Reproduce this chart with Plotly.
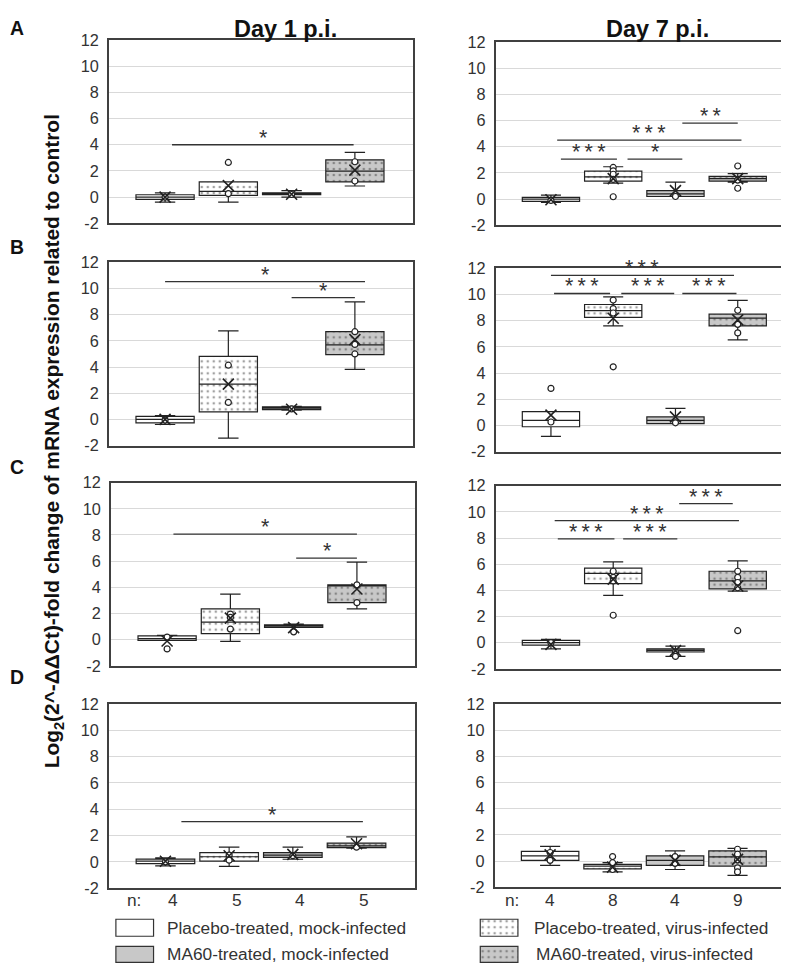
import plotly.graph_objects as go

# groups in plotting order
GROUPS = ["Placebo-treated, mock-infected", "Placebo-treated, virus-infected",
          "MA60-treated, mock-infected", "MA60-treated, virus-infected"]
N_DAY1 = [4, 5, 4, 5]
N_DAY7 = [4, 8, 4, 9]
Y_TICKS = [-2, 0, 2, 4, 6, 8, 10, 12]

# box stats per group: (q1, median, q3, lower whisker, upper whisker, mean)
A_D1_BOX = [(-0.18, 0.0, 0.18, -0.38, 0.33, 0.0), (0.13, 0.44, 1.16, -0.38, 1.16, 0.88),
            (0.18, 0.26, 0.33, 0.0, 0.5, 0.22), (1.16, 1.98, 2.85, 0.85, 3.42, 2.06)]
A_D1_POINTS = [[0.0], [0.26, 2.65], [0.2], [2.7, 1.23]]
A_D1_SIG = [(0.11, 2.98, 4.0, "*")]

A_D7_BOX = [(-0.18, 0.0, 0.13, -0.26, 0.31, -0.05), (1.38, 1.7, 2.13, 1.22, 2.47, 1.56),
            (0.2, 0.4, 0.65, 0.2, 1.3, 0.65), (1.38, 1.56, 1.74, 1.3, 1.95, 1.56)]
A_D7_POINTS = [[-0.1], [2.42, 2.16, 1.9, 1.5, 0.18], [0.2], [2.53, 1.45, 0.83]]
A_D7_SIG = [(0.16, 1.06, 3.05, "***"), (1.23, 2.11, 3.05, "*"),
            (0.1, 3.06, 4.5, "***"), (2.11, 3.0, 5.8, "**")]

B_D1_BOX = [(-0.26, 0.0, 0.23, -0.39, 0.3, 0.0), (0.57, 2.7, 4.82, -1.43, 6.77, 2.7),
            (0.75, 0.86, 0.96, 0.7, 1.0, 0.78), (4.95, 5.7, 6.7, 3.83, 8.98, 6.1)]
B_D1_POINTS = [[-0.05], [4.14, 1.3], [0.8], [6.7, 5.73, 5.0]]
B_D1_SIG = [(0.0, 3.16, 10.52, "*"), (2.0, 3.0, 9.3, "*")]

B_D7_BOX = [(-0.1, 0.39, 1.05, -0.84, 1.05, 0.79), (8.25, 8.77, 9.24, 7.6, 9.82, 8.19),
            (0.13, 0.39, 0.65, 0.13, 1.31, 0.65), (7.6, 8.19, 8.5, 6.54, 9.55, 8.06)]
B_D7_POINTS = [[2.83, 0.26], [9.58, 8.93, 8.59, 4.48], [0.2], [8.8, 7.72, 7.07]]
B_D7_SIG = [(0.0, 2.94, 11.47, "***"), (0.05, 0.95, 10.08, "***"),
            (1.13, 1.98, 10.08, "***"), (2.11, 2.98, 10.08, "***")]

C_D1_BOX = [(-0.05, 0.08, 0.29, -0.05, 0.34, -0.1), (0.47, 1.34, 2.36, -0.13, 3.48, 1.65),
            (0.94, 1.05, 1.13, 0.94, 1.2, 0.92), (2.83, 4.15, 4.19, 2.36, 5.92, 3.87)]
C_D1_POINTS = [[0.2, -0.7], [1.96, 1.7, 0.81], [0.6], [4.19, 2.83]]
C_D1_SIG = [(0.1, 3.0, 8.06, "*"), (2.04, 3.0, 6.23, "*")]

C_D7_BOX = [(-0.18, 0.0, 0.18, -0.47, 0.26, -0.13), (4.51, 5.3, 5.7, 3.62, 6.17, 4.86),
            (-0.71, -0.58, -0.47, -1.05, -0.26, -0.6), (4.12, 4.72, 5.46, 3.94, 6.25, 4.33)]
C_D7_POINTS = [[0.0], [5.46, 4.99, 4.72, 2.1], [-0.73, -1.05], [5.46, 4.99, 4.6, 4.2, 0.92]]
C_D7_SIG = [(2.06, 2.92, 10.63, "***"), (0.06, 3.02, 9.32, "***"),
            (0.11, 1.02, 7.93, "***"), (1.16, 2.03, 7.93, "***")]

D_D1_BOX = [(-0.13, 0.05, 0.21, -0.3, 0.3, 0.05), (0.05, 0.39, 0.7, -0.34, 1.12, 0.47),
            (0.34, 0.52, 0.7, 0.2, 1.12, 0.57), (1.09, 1.22, 1.43, 1.04, 1.9, 1.38)]
D_D1_POINTS = [[0.0], [0.52, 0.13], [0.47], [1.12]]
D_D1_SIG = [(0.25, 3.1, 3.06, "*")]

D_D7_BOX = [(0.05, 0.39, 0.73, -0.34, 1.12, 0.47), (-0.6, -0.39, -0.26, -0.83, -0.13, -0.47),
            (-0.34, 0.05, 0.39, -0.65, 0.78, 0.05), (-0.39, 0.31, 0.78, -1.09, 0.96, 0.13)]
D_D7_POINTS = [[0.65, 0.05], [0.34, -0.13, -0.65], [0.34, -0.18], [0.9, 0.52, 0.08, -0.52, -0.83]]
D_D7_SIG = []

W, H = 789, 965
# the page shows the figure slightly shrunk and offset, so layout pixels
# are mapped back through this
SCALE, OFF_X, OFF_Y = 0.98, 8, 16
FONT = "Liberation Sans, Arial, sans-serif"
TXT = "#333333"
GRAY = "#c8c8c8"
FILLS = ["white", "white", GRAY, GRAY]
DOTTED = [False, True, False, True]
BOX_W = 0.92

# panel rectangles in reference pixels (left, right, top, bottom)
PANELS = [
    ((107, 406, 39, 222), A_D1_BOX, A_D1_POINTS, A_D1_SIG),
    ((487, 785, 41, 224), A_D7_BOX, A_D7_POINTS, A_D7_SIG),
    ((107, 406, 261, 444), B_D1_BOX, B_D1_POINTS, B_D1_SIG),
    ((487, 786, 267, 450), B_D7_BOX, B_D7_POINTS, B_D7_SIG),
    ((109, 408, 481, 664), C_D1_BOX, C_D1_POINTS, C_D1_SIG),
    ((487, 785, 484, 667), C_D7_BOX, C_D7_POINTS, C_D7_SIG),
    ((107, 408, 702, 886), D_D1_BOX, D_D1_POINTS, D_D1_SIG),
    ((486, 785, 702, 885), D_D7_BOX, D_D7_POINTS, D_D7_SIG),
]


def fx(p):
    return min(1.0, max(0.0, (p - OFF_X) / SCALE / W))


def fy(p):
    return min(1.0, max(0.0, 1 - (p - OFF_Y) / SCALE / H))


def fs(size):
    return round(size / SCALE, 1)


def note(x, y, text, size, color=TXT, xanchor="center", **kw):
    return dict(xref="paper", yref="paper", x=fx(x), y=fy(y), text=text, showarrow=False,
                xanchor=xanchor, yanchor="middle",
                font=dict(family=FONT, size=fs(size), color=color), **kw)


fig = go.Figure()
layout = {}
shapes = []
annotations = []

for i, (rect, box, points, sig) in enumerate(PANELS, start=1):
    sx = "" if i == 1 else str(i)
    xa, ya = "x" + sx, "y" + sx
    l, r, t, b = rect
    layout["xaxis" + sx] = dict(domain=[fx(l), fx(r)], range=[-0.89, 3.92], anchor=ya,
                                showline=True, mirror=True, linecolor="#404040", linewidth=1.5,
                                showgrid=False, zeroline=False, showticklabels=False, ticks="")
    layout["yaxis" + sx] = dict(domain=[fy(b), fy(t)], range=[-2, 12], anchor=xa,
                                tickvals=Y_TICKS, ticktext=[str(v) for v in Y_TICKS],
                                showline=True, mirror=True, linecolor="#404040", linewidth=1.5,
                                showgrid=True, gridcolor="#d9d9d9", gridwidth=1, zeroline=False,
                                ticks="", ticklabelstandoff=5,
                                tickfont=dict(family=FONT, size=fs(16), color=TXT))

    # dotted fills go under the (transparent) boxes
    dot_idx = [g for g in range(4) if DOTTED[g]]
    fig.add_trace(go.Bar(
        x=dot_idx, base=[box[g][0] for g in dot_idx],
        y=[box[g][2] - box[g][0] for g in dot_idx], width=BOX_W,
        marker=dict(color=[FILLS[g] for g in dot_idx], line=dict(width=0),
                    pattern=dict(shape=".", fgcolor="#444444", size=6, solidity=0.15,
                                 fillmode="overlay")),
        xaxis=xa, yaxis=ya, showlegend=False, hoverinfo="skip"))

    for g in range(4):
        q1, med, q3, lo, hi, mean = box[g]
        fig.add_trace(go.Box(
            x=[g], q1=[q1], median=[med], q3=[q3], lowerfence=[lo], upperfence=[hi],
            width=BOX_W, whiskerwidth=0.35, boxpoints=False,
            fillcolor="rgba(0,0,0,0)" if DOTTED[g] else FILLS[g],
            line=dict(color="#222222", width=1.2),
            xaxis=xa, yaxis=ya, showlegend=False, hoverinfo="skip"))

    px_, py_ = [], []
    for g in range(4):
        for v in points[g]:
            px_.append(g)
            py_.append(v)
    fig.add_trace(go.Scatter(
        x=px_, y=py_, mode="markers",
        marker=dict(symbol="circle", size=6, color="white", line=dict(color="#222222", width=1.2)),
        xaxis=xa, yaxis=ya, showlegend=False, hoverinfo="skip"))
    fig.add_trace(go.Scatter(
        x=list(range(4)), y=[box[g][5] for g in range(4)], mode="markers",
        marker=dict(symbol="x-thin", size=11, color="#222222", line=dict(color="#222222", width=1.6)),
        xaxis=xa, yaxis=ya, showlegend=False, hoverinfo="skip"))

    for x0, x1, yv, lab in sig:
        shapes.append(dict(type="line", xref=xa, yref=ya, x0=x0, x1=x1, y0=yv, y1=yv,
                           line=dict(color="#333333", width=1.3)))
        annotations.append(dict(xref=xa, yref=ya, x=(x0 + x1) / 2, y=yv, text="\u2009".join(lab),
                                showarrow=False, xanchor="center", yanchor="bottom", yshift=-7,
                                font=dict(family=FONT, size=fs(21), color=TXT)))

# n labels under bottom panels
for sx, counts, nx, dx in (("7", N_DAY1, 132, 0.12), ("8", N_DAY7, 503, 0.0)):
    annotations.append(note(nx, 898, "n:", 17))
    for g, n in enumerate(counts):
        annotations.append(dict(xref="x" + sx, yref="paper", x=g + dx, y=fy(898), text=str(n),
                                showarrow=False, xanchor="center", yanchor="middle",
                                font=dict(family=FONT, size=fs(17), color=TXT)))

# titles, panel letters, y title
for txt, x in (("Day 1 p.i.", 281), ("Day 7 p.i.", 646)):
    annotations.append(note(x, 28, "<b>%s</b>" % txt, 23, "#111111"))
for txt, y in (("A", 27), ("B", 246), ("C", 465), ("D", 675)):
    annotations.append(note(3, y, "<b>%s</b>" % txt, 19, "#111111", xanchor="left"))
annotations.append(note(52, 440,
                        "<b>Log<sub>2</sub>(2^-ΔΔCt)-fold change of mRNA expression related to control</b>",
                        20.5, "#111111", textangle=-90))

# legend swatches drawn as bars on a hidden axis in reference pixel units
LEG_X = [132.5, 132.5, 490.5, 490.5]
LEG_TOP = [917, 944, 917, 944]
LEG_ORDER = [0, 2, 1, 3]
layout["xaxis9"] = dict(domain=[fx(100), fx(520)], range=[100, 520], visible=False, anchor="y9")
layout["yaxis9"] = dict(domain=[fy(961), fy(910)], range=[961, 910], visible=False, anchor="x9")
fig.add_trace(go.Bar(
    x=LEG_X, base=LEG_TOP, y=[17, 16, 17, 16], width=37,
    marker=dict(color=[FILLS[g] for g in LEG_ORDER], line=dict(color="#333333", width=1.2),
                pattern=dict(shape=["." if DOTTED[g] else "" for g in LEG_ORDER],
                             fgcolor="#444444", size=6, solidity=0.15, fillmode="overlay")),
    xaxis="x9", yaxis="y9", showlegend=False, hoverinfo="skip"))
for g, tx, ty in zip(LEG_ORDER, [162, 162, 523, 525], [926, 952, 926, 952]):
    annotations.append(note(tx, ty, GROUPS[g], 17, xanchor="left"))

fig.update_layout(
    width=W, height=H, margin=dict(l=0, r=0, t=0, b=0),
    paper_bgcolor="white", plot_bgcolor="rgba(0,0,0,0)",
    boxmode="overlay", barmode="overlay",
    shapes=shapes, annotations=annotations, **layout)

fig.write_html("out.html")
